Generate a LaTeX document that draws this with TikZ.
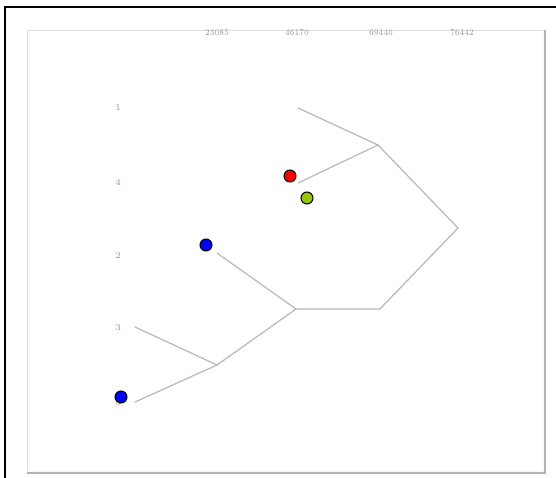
\documentclass[tikz,border=0pt]{standalone}
\usepackage{tikz}
\usetikzlibrary{positioning}
\definecolor{leafgreen}{RGB}{150,200,0}

\begin{document}
\begin{tikzpicture}[x=0.02cm, y=-0.02cm, font=\fontsize{5}{6}\selectfont,
        branch/.style={gray!55, line width=0.7pt},
        leaflabel/.style={text=gray!80, inner sep=1pt},
        dot/.style={circle, draw=black, line width=0.6pt, minimum size=6.8pt, inner sep=0pt}]
        \useasboundingbox (0,0) rectangle (556,478);

        % Frames
        \draw [black, line width=1.1pt] (5,478) -- (5,7) -- (556,7);
        \fill [gray!6] (27,30) rectangle (545,473);
        \fill [white] (29,30) rectangle (543,471);
        \draw [gray!25, line width=0.5pt] (27,473) -- (27,30) -- (545,30);
        \draw [gray!60, line width=1.1pt] (545,30) -- (545,473) -- (27,473);

        % Scale
        \node [leaflabel, xscale=0.8] (t1) at (217,33) {23085};
        \node [leaflabel, xscale=0.8] (t2) at (297,33) {46170};
        \node [leaflabel, xscale=0.8] (t3) at (381,33) {69440};
        \node [leaflabel, xscale=0.8] (t4) at (462,33) {76442};

        % Leaves
        \node [leaflabel] (l1) at (118,108) {1};
        \node [leaflabel] (l4) at (118,183) {4};
        \node [leaflabel] (l2) at (118,256) {2};
        \node [leaflabel] (l3) at (118,328) {3};
        \node [leaflabel] (l5) at (118,403) {5};

        \coordinate (e1) at (298,108);
        \coordinate (e4) at (298,183);
        \coordinate (e2) at (217,253);
        \coordinate (e3) at (135,327);
        \coordinate (e5) at (135,402);

        % Joins
        \coordinate (j14) at (378,145);
        \coordinate (j35) at (217,365);
        \coordinate (j235) at (296,309);
        \coordinate (jr) at (380,309);
        \coordinate (jall) at (458,228);

        \draw [branch] (e1) -- (j14) -- (e4);
        \draw [branch] (e3) -- (j35) -- (e5);
        \draw [branch] (e2) -- (j235) -- (j35);
        \draw [branch] (j235) -- (jr) -- (jall) -- (j14);

        % Markers
        \node [dot, fill=blue] (m2) at (206,245) {};
        \node [dot, fill=red] (m4) at (290,176) {};
        \node [dot, fill=leafgreen] (m6) at (307,198) {};
        \node [dot, fill=blue] (m5) at (121,397) {};
    \end{tikzpicture}
\end{document}
